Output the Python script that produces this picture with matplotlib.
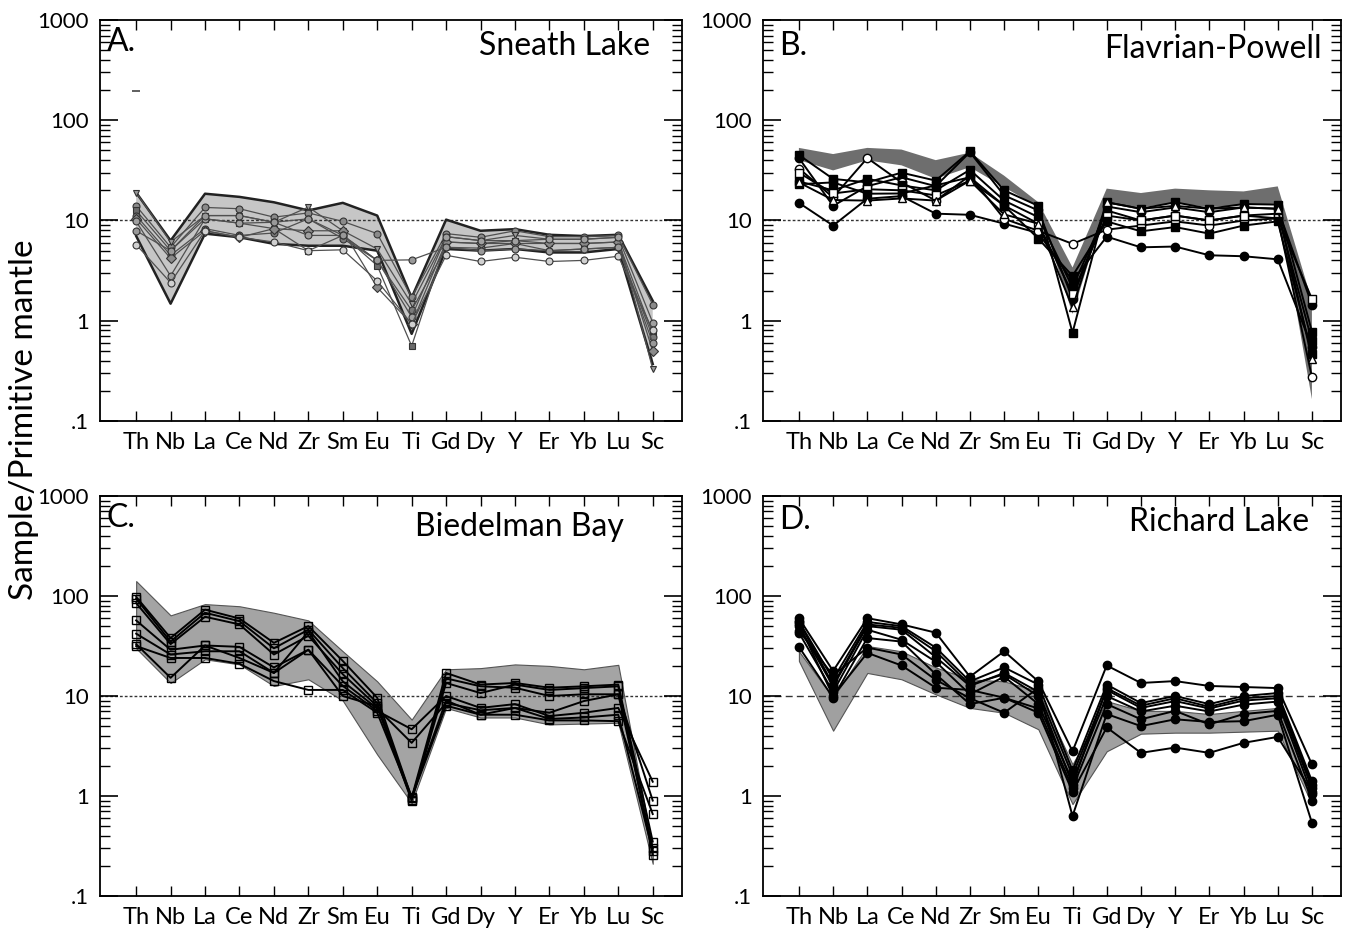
import matplotlib
matplotlib.use("Agg")
import matplotlib.pyplot as plt
import numpy as np
from matplotlib.ticker import FixedLocator, LogLocator, NullFormatter

plt.rcParams['font.family'] = ['Lato', 'DejaVu Sans']

elements = ["Th", "Nb", "La", "Ce", "Nd", "Zr", "Sm", "Eu", "Ti", "Gd", "Dy", "Y", "Er", "Yb", "Lu", "Sc"]
ytick_vals = [0.1, 1, 10, 100, 1000]
ytick_labels = [".1", "1", "10", "100", "1000"]

# ---------------- Panel A: Sneath Lake ----------------
A_field_upper = [19, 6.3, 18.5, 17.2, 15.2, 12.6, 15, 11.2, 1.7, 10.2, 7.9, 8.2, 7.2, 7.0, 7.2, 1.58]
A_field_lower = [7.0, 1.48, 7.4, 6.8, 5.85, 5.6, 5.6, 5.0, 0.74, 5.2, 5.0, 5.2, 4.8, 4.8, 5.2, 0.37]
A_samples = [
    [14, 5.4, 13.5, 13.1, 10.8, 11.9, 9.8, 7.4, 1.71, 7.4, 6.8, 7.9, 6.9, 6.9, 7.1, 1.45],
    [19, 6.1, 11.2, 11.2, 9.6, 13.6, 7.9, 5.2, 1.47, 6.9, 6.3, 7.1, 6.5, 6.5, 6.8, 0.33],
    [12.6, 5.0, 10.4, 9.4, 8.3, 5.0, 7.1, 3.55, 0.56, 6.1, 5.9, 6.3, 5.9, 5.9, 6.1, 0.75],
    [11.2, 4.5, 8.3, 7.1, 7.5, 10.4, 6.6, 4.0, 1.27, 5.4, 5.3, 5.9, 5.0, 5.2, 5.4, 0.69],
    [10.4, 4.2, 7.9, 6.8, 8.3, 7.9, 7.9, 2.15, 0.93, 6.1, 5.9, 5.9, 5.9, 5.9, 6.1, 0.5],
    [9.8, 2.8, 10.4, 9.4, 9.6, 7.1, 7.1, 4.0, 1.09, 6.9, 6.3, 6.3, 6.5, 6.5, 6.8, 0.96],
    [5.75, 2.4, 7.9, 6.8, 6.1, 5.0, 5.1, 2.5, 0.93, 4.5, 3.9, 4.3, 3.9, 4.0, 4.4, 0.8],
    [7.9, 5.0, 11.2, 11.2, 9.6, 10.4, 7.1, 4.0, 4.05, 5.4, 5.0, 5.2, 5.0, 5.2, 5.4, 0.6],
]
A_markers = ["o", "v", "s", "o", "D", "o", "o", "o"]
A_fills = ["#8a8a8a", "#9a9a9a", "#6a6a6a", "#7a7a7a", "#8a8a8a", "#a0a0a0", "#d0d0d0", "#999999"]
A_stray_mark = [196]  # short dash near Th

# ---------------- Panel B: Flavrian-Powell ----------------
B_field_upper = [53, 46, 53, 51, 40, 47.5, 28, 15.2, 3.4, 20.8, 18.8, 20.8, 20, 19.5, 21.9, 1.58]
B_field_lower = [40, 31.6, 39.8, 35.5, 26.1, 34, 21.5, 13.6, 1.17, 14.7, 13.6, 14.9, 13.6, 14.3, 14.7, 0.165]
B_samples = [
    [15, 8.9, 16.5, 17.5, 11.7, 11.4, 9.3, 7.5, 2.5, 6.9, 5.4, 5.5, 4.5, 4.4, 4.1, 0.55],
    [45, 26, 24, 30, 25, 49, 20, 14, 0.76, 15.2, 13.1, 15.2, 13.1, 14.6, 14.4, 0.78],
    [42, 14, 22, 27, 22, 48, 17.8, 12.6, 1.66, 13.8, 12.1, 13.5, 12.1, 13.5, 13.1, 1.45],
    [33, 17, 42, 24, 15.8, 28, 10.4, 7.9, 5.85, 8.1, 8.9, 9.8, 8.9, 10, 10.5, 0.275],
    [24.5, 20, 26, 22.4, 20, 32, 15.8, 10.8, 2.15, 12.6, 10.0, 11.2, 10.0, 11.2, 11.7, 0.63],
    [30, 18.6, 20.5, 20, 17.8, 25, 14.1, 9.3, 1.86, 11.2, 10, 11.2, 10, 11.2, 10.5, 1.65],
    [23, 24, 18.5, 18.6, 22.4, 27, 14.1, 6.6, 2.8, 9.8, 7.8, 8.6, 7.4, 8.9, 9.8, 0.47],
    [24, 16, 15.8, 16.6, 15.8, 25, 11.5, 9.3, 1.36, 15.2, 13.1, 14, 13.1, 13.5, 13.1, 0.42],
]
B_markers = ["o", "s", "o", "o", "s", "s", "s", "^"]
B_fills = ["black", "black", "black", "white", "black", "white", "black", "white"]

# ---------------- Panel C: Biedelman Bay ----------------
C_field_upper = [141, 64, 83, 79, 68, 57, 28, 14, 5.8, 18.5, 19, 20.7, 20, 18.5, 20.5, 0.3]
C_field_lower = [30, 13.5, 23.3, 20.7, 12.6, 14.7, 9.0, 2.6, 0.85, 7.6, 6.1, 6.1, 5.2, 5.3, 5.4, 0.21]
C_samples = [
    [98, 38, 73, 59.5, 34, 50, 22.4, 9.6, 0.96, 17, 13, 13.5, 12.1, 12.5, 13, 0.35],
    [94, 35, 68, 56, 30, 46, 19, 8.5, 0.92, 15, 12.5, 12.1, 10, 10.4, 10.4, 0.3],
    [85, 33, 62, 52, 26, 40, 16.5, 7.9, 0.9, 13.5, 10.7, 13, 11.5, 12, 12.5, 0.26],
    [57, 29, 32, 31, 19.3, 29, 12.6, 7.1, 4.65, 10, 7.6, 8.3, 6.3, 6.8, 7.6, 1.39],
    [42, 26, 28, 28, 17, 44, 14, 7.5, 3.4, 8.5, 7.2, 7.6, 6.8, 8.9, 10.4, 0.9],
    [31.6, 24, 24, 21, 14.1, 11.5, 11.5, 6.8, 0.96, 8, 6.5, 6.5, 5.7, 5.7, 5.6, 0.66],
    [33, 15.2, 32, 24, 17, 29, 10, 7.9, 0.98, 9, 6.5, 7.6, 5.9, 6.1, 6.5, 0.28],
]

# ---------------- Panel D: Richard Lake ----------------
D_field_upper = [28, 9.6, 31.6, 28, 19.3, 14.7, 14, 11.2, 2.07, 8.9, 7.1, 7.1, 6.6, 7.1, 7.6, 1.3]
D_field_lower = [22.4, 4.5, 17, 14.7, 10.4, 7.6, 6.8, 4.65, 0.83, 2.8, 4.2, 4.3, 4.3, 4.4, 4.5, 0.83]
D_samples = [
    [60, 17.8, 60, 52, 43, 15.6, 28, 14, 2.8, 20.2, 13.5, 14.1, 12.6, 12.3, 12, 2.07],
    [56, 14.7, 55, 50, 30.5, 14, 19.3, 13, 1.8, 13, 8.5, 10, 8.3, 10, 10.7, 1.41],
    [50, 12.5, 50, 46, 24.5, 12.6, 17, 11, 1.6, 11.5, 7.6, 8.9, 7.5, 9, 9.5, 1.2],
    [43, 11, 46, 36.5, 22, 10.4, 15.6, 8.3, 1.4, 10, 7, 8, 7, 8.2, 8.8, 1.05],
    [31, 9.6, 38, 35, 16.5, 8.3, 9.6, 7.5, 1.2, 8.3, 5.85, 7.1, 5.2, 6.6, 7.1, 0.9],
    [45, 16, 30.5, 26, 14.5, 9.5, 6.8, 12, 0.63, 6.6, 5.0, 5.85, 5.5, 5.6, 6.5, 0.54],
    [52, 10, 27, 20.2, 12.1, 11.5, 9.6, 6.8, 1.1, 4.85, 2.7, 3.05, 2.7, 3.4, 3.9, 1.1],
    [55, 13, 52, 48, 28, 13, 16.5, 10, 1.3, 12, 8, 9.5, 7.8, 9.5, 10, 1.3],
]

W, H = 1345, 933
fig = plt.figure(figsize=(W / 100, H / 100), dpi=100)

def ax_rect(l, r, t, b):
    return [l / W, 1 - b / H, (r - l) / W, (b - t) / H]

rects = {
    "A": ax_rect(100, 682, 20, 421),
    "B": ax_rect(763, 1341, 20, 421),
    "C": ax_rect(100, 682, 496, 896),
    "D": ax_rect(763, 1341, 496, 896),
}

x = np.arange(len(elements))

def setup(ax, letter, name, name_x, name_y, letter_x, letter_y, dash_style):
    ax.set_yscale("log")
    ax.set_ylim(0.1, 1000)
    ax.set_xlim(-1.05, 15.85)
    ax.yaxis.set_major_locator(FixedLocator(ytick_vals))
    ax.set_yticklabels(ytick_labels)
    ax.yaxis.set_minor_locator(LogLocator(base=10, subs=np.arange(2, 10)))
    ax.yaxis.set_minor_formatter(NullFormatter())
    ax.set_xticks(x)
    ax.set_xticklabels(elements)
    ax.tick_params(axis="y", which="major", direction="in", length=13, width=1.2,
                   left=True, right=True, labelsize=16, pad=8)
    ax.tick_params(axis="y", which="minor", direction="in", length=7, width=1.0,
                   left=True, right=True)
    ax.tick_params(axis="x", which="major", direction="in", length=7, width=1.0,
                   top=True, bottom=True, labelsize=17, pad=8)
    for s in ax.spines.values():
        s.set_linewidth(1.3)
    ax.axhline(10, color="#333333", lw=1.0, linestyle=dash_style, zorder=1.5)
    ax.text(letter_x, letter_y, letter, transform=ax.transAxes, fontsize=23,
            ha="left", va="center")
    ax.text(name_x, name_y, name, transform=ax.transAxes, fontsize=23,
            ha="right", va="center")

# Panel A
axA = fig.add_axes(rects["A"])
axA.fill_between(x, A_field_lower, A_field_upper, facecolor="#c6c6c6", edgecolor="none", zorder=1)
axA.plot(x, A_field_upper, color="#222222", lw=1.8, zorder=2.5)
axA.plot(x, A_field_lower, color="#222222", lw=1.8, zorder=2.5)
for vals, m, fc in zip(A_samples, A_markers, A_fills):
    axA.plot(x, vals, color="#505050", lw=0.9, marker=m, ms=5, mfc=fc, mec="#333333",
             mew=0.8, zorder=3)
axA.plot([0], A_stray_mark, marker="_", ms=6, color="#444444", mew=1.2, zorder=3)
setup(axA, "A.", "Sneath Lake", 0.945, 0.935, 0.012, 0.945, (0, (2, 1.5)))

# Panel B
axB = fig.add_axes(rects["B"])
axB.fill_between(x, B_field_lower, B_field_upper, facecolor="#6e6e6e", edgecolor="none", zorder=1)
for vals, m, fc in zip(B_samples, B_markers, B_fills):
    axB.plot(x, vals, color="black", lw=1.4, marker=m, ms=6, mfc=fc, mec="black",
             mew=1.0, zorder=3)
setup(axB, "B.", "Flavrian-Powell", 0.967, 0.927, 0.028, 0.935, (0, (2, 1.5)))

# Panel C
axC = fig.add_axes(rects["C"])
axC.fill_between(x, C_field_lower, C_field_upper, facecolor="#a4a4a4", edgecolor="#555555",
                 lw=0.8, zorder=1)
for vals in C_samples:
    axC.plot(x, vals, color="black", lw=1.4, marker="s", ms=6, mfc="none", mec="black",
             mew=1.0, zorder=3)
setup(axC, "C.", "Biedelman Bay", 0.9, 0.922, 0.012, 0.945, (0, (2, 1.5)))

# Panel D
axD = fig.add_axes(rects["D"])
axD.fill_between(x, D_field_lower, D_field_upper, facecolor="#a0a0a0", edgecolor="#555555",
                 lw=0.8, zorder=1)
for vals in D_samples:
    axD.plot(x, vals, color="black", lw=1.4, marker="o", ms=6, mfc="black", mec="black",
             zorder=3)
setup(axD, "D.", "Richard Lake", 0.945, 0.935, 0.028, 0.94, (0, (5, 3)))

fig.text(24 / W, 1 - 420 / H, "Sample/Primitive mantle", rotation=90, fontsize=24,
         ha="center", va="center")

fig.savefig("out.png", dpi=100)
